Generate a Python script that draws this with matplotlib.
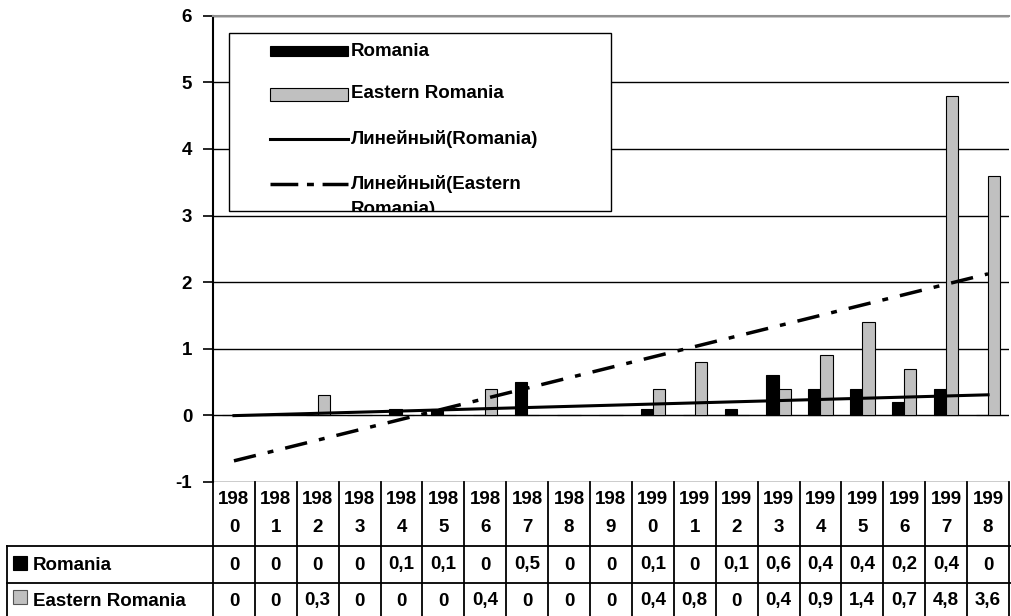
import numpy as np
import matplotlib.pyplot as plt
import matplotlib.transforms as mtransforms
from matplotlib.patches import Rectangle
from matplotlib.lines import Line2D

plt.rcParams['font.family'] = ['Liberation Sans', 'DejaVu Sans']
plt.rcParams['font.weight'] = 'bold'
plt.rcParams['font.size'] = 13.5
plt.rcParams['axes.unicode_minus'] = False

years = ['1980', '1981', '1982', '1983', '1984', '1985', '1986', '1987', '1988', '1989',
         '1990', '1991', '1992', '1993', '1994', '1995', '1996', '1997', '1998']
romania = [0, 0, 0, 0, 0.1, 0.1, 0, 0.5, 0, 0, 0.1, 0, 0.1, 0.6, 0.4, 0.4, 0.2, 0.4, 0]
eastern = [0, 0, 0.3, 0, 0, 0, 0.4, 0, 0, 0, 0.4, 0.8, 0, 0.4, 0.9, 1.4, 0.7, 4.8, 3.6]
series_names = ['Romania', 'Eastern Romania']
trend_names = ['Линейный(Romania)', 'Линейный(Eastern\nRomania)']

W, H = 1011, 616
gray = '#c0c0c0'

fig = plt.figure(figsize=(W / 100, H / 100), dpi=100)
ax = fig.add_axes([213 / W, (H - 482) / H, 796 / W, 466.3 / H])

x = np.arange(len(years))
bw = 0.29
ax.bar(x - bw / 2, romania, bw, color='black', edgecolor='black', linewidth=0.8, zorder=2)
ax.bar(x + bw / 2, eastern, bw, color=gray, edgecolor='black', linewidth=0.8, zorder=2)

# linear trend lines
k1, b1 = np.polyfit(x, romania, 1)
k2, b2 = np.polyfit(x, eastern, 1)
ax.plot(x, k1 * x + b1, color='black', lw=2.2, zorder=3)
ax.plot(x, k2 * x + b2, color='black', lw=2.5, linestyle=(0, (6.5, 3.5, 1.7, 3.5)), zorder=3)

ax.set_xlim(-0.5, len(years) - 0.5)
ax.set_ylim(-1, 6)
ax.set_yticks(range(-1, 7))
ax.set_xticks([])
ax.yaxis.grid(True, color='black', lw=1)
ax.set_axisbelow(True)
ax.spines['right'].set_visible(False)
ax.spines['bottom'].set_visible(False)
ax.spines['top'].set_color('#909090')
ax.spines['top'].set_linewidth(1.5)
ax.spines['left'].set_linewidth(1.5)
ax.tick_params(axis='y', direction='out', length=7, width=1.2, pad=8)

# pixel transform (x from left, y from top)
pix = mtransforms.Affine2D().scale(1, -1).translate(0, H)

# legend box
leg = Rectangle((229, 33), 382, 178, transform=pix, facecolor='white',
                edgecolor='black', lw=1, zorder=5)
fig.add_artist(leg)
fig.add_artist(Rectangle((270, 46), 78, 10, transform=pix, facecolor='black',
                         edgecolor='black', lw=0.8, zorder=6))
fig.add_artist(Rectangle((270, 88), 78, 13, transform=pix, facecolor=gray,
                         edgecolor='black', lw=0.8, zorder=6))
fig.add_artist(Line2D([270, 348], [139, 139], transform=pix, color='black', lw=2.2, zorder=6))
fig.add_artist(Line2D([270, 348], [184, 184], transform=pix, color='black', lw=2.5,
                      linestyle=(0, (8, 2.5, 2, 2.5)), zorder=6))
labels = series_names + trend_names
ly = [51, 94, 139, 184]
for lab, yy in zip(labels, ly):
    for j, part in enumerate(lab.split('\n')):
        t = fig.text(351, yy + 25 * j, part, transform=pix, va='center', ha='left', zorder=7)
        t.set_clip_on(True)
        t.set_clip_path(leg)

# data table below the axis
tr = mtransforms.blended_transform_factory(ax.transData, pix)
y_top, y_r1, y_r2, y_bot = 482, 545.7, 582.7, 620
n = len(years)
for i in range(n + 1):
    fig.add_artist(Line2D([i - 0.5, i - 0.5], [y_top, y_bot], transform=tr,
                          color='black', lw=1.3))
for yy in (y_r1, y_r2):
    fig.add_artist(Line2D([6.7, W], [yy, yy], transform=pix, color='black', lw=1.3))
fig.add_artist(Line2D([6.7, 6.7], [y_r1, y_bot], transform=pix, color='black', lw=1.3))

def fmt(v):
    return ('%g' % v).replace('.', ',')

for i, yr in enumerate(years):
    fig.text(i, 500, yr[:3], transform=tr, ha='center', va='center')
    fig.text(i, 528, yr[3:], transform=tr, ha='center', va='center')
    fig.text(i, 565, fmt(romania[i]), transform=tr, ha='center', va='center')
    fig.text(i, 601, fmt(eastern[i]), transform=tr, ha='center', va='center')

fig.add_artist(Rectangle((13, 556), 14, 14, transform=pix, facecolor='black', edgecolor='black', lw=0.8))
fig.add_artist(Rectangle((13, 590), 14, 14, transform=pix, facecolor=gray, edgecolor='#555555', lw=0.8))
fig.text(33, 565, series_names[0], transform=pix, ha='left', va='center')
fig.text(33, 601, series_names[1], transform=pix, ha='left', va='center')

fig.savefig('out.png', dpi=100, facecolor='white')
